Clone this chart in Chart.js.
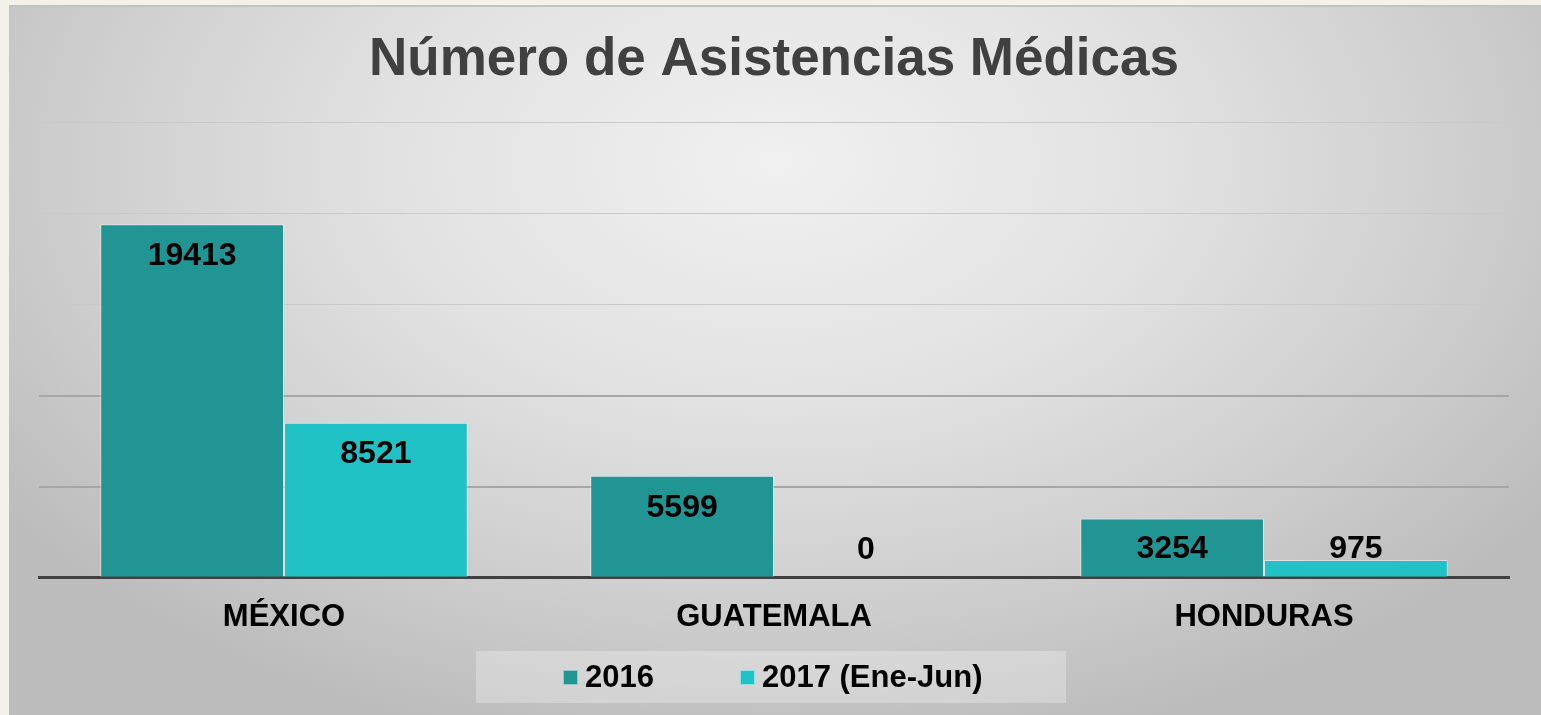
<!DOCTYPE html>
<html>
<head>
<meta charset="utf-8">
<script src="https://cdn.jsdelivr.net/npm/chart.js@4"></script>
<style>
    body { margin: 0; background: #f4f1ea; }
    #wrap {
        position: absolute; left: 9px; top: 5px; width: 1532px; height: 710px;
        border-top: 2px solid #c2c2c2; box-sizing: border-box;
        background: radial-gradient(ellipse 62% 85% at 50% 22%, #f0f0f0 0%, #e2e2e2 40%, #cfcfcf 72%, #bcbcbc 100%);
    }
    canvas { display: block; }
</style>
</head>
<body>
<div id="wrap"><canvas id="chart"></canvas></div>
<script>
// datos
const categorias = ['MÉXICO', 'GUATEMALA', 'HONDURAS'];
const serie2016 = [19413, 5599, 3254];
const serie2017 = [8521, 0, 975];
const nombresSeries = ['2016', '2017 (Ene-Jun)'];
const colores = ['#219594', '#21c2c5'];

const fuente = '"Liberation Sans", Arial, sans-serif';

// etiquetas de valor dentro de la barra (o encima si no caben)
const etiquetasPlugin = {
    id: 'etiquetas',
    afterDatasetsDraw(chart) {
        const ctx = chart.ctx;
        ctx.save();
        ctx.font = 'bold 32px ' + fuente;
        ctx.fillStyle = '#000';
        ctx.textAlign = 'center';
        ctx.textBaseline = 'middle';
        chart.data.datasets.forEach((ds, i) => {
            chart.getDatasetMeta(i).data.forEach((bar, j) => {
                const y = Math.min(bar.y + 32, bar.base - 28);
                ctx.fillText(ds.data[j], bar.x, y);
            });
        });
        ctx.restore();
    }
};

// leyenda dibujada a mano con su recuadro
const leyendaPlugin = {
    id: 'leyenda',
    afterDraw(chart) {
        const ctx = chart.ctx;
        const cy = 670;
        ctx.save();
        ctx.fillStyle = 'rgba(255,255,255,0.28)';
        ctx.fillRect(467, 644, 590, 52);
        ctx.font = 'bold 31px ' + fuente;
        ctx.textBaseline = 'middle';
        let x = 554;
        nombresSeries.forEach((nombre, i) => {
            ctx.fillStyle = colores[i];
            ctx.fillRect(x, cy - 7, 15, 15);
            ctx.strokeStyle = 'rgba(255,255,255,0.5)';
            ctx.lineWidth = 1;
            ctx.strokeRect(x + 0.5, cy - 6.5, 14, 14);
            ctx.fillStyle = '#000';
            ctx.fillText(nombre, x + 22, cy + 1);
            x += 22 + ctx.measureText(nombre).width + 86;
        });
        ctx.restore();
    }
};

new Chart(document.getElementById('chart'), {
    type: 'bar',
    data: {
        labels: categorias,
        datasets: [
            { label: nombresSeries[0], data: serie2016, backgroundColor: colores[0] },
            { label: nombresSeries[1], data: serie2017, backgroundColor: colores[1] }
        ]
    },
    options: {
        responsive: true,
        maintainAspectRatio: false,
        animation: false,
        datasets: {
            bar: {
                categoryPercentage: 0.75,
                barPercentage: 1.0,
                borderColor: 'rgba(255,255,255,0.45)',
                borderWidth: 1
            }
        },
        layout: { padding: { left: 30, right: 32, top: 0, bottom: 66 } },
        scales: {
            x: {
                grid: { display: false },
                border: { display: true, color: '#404040', width: 3 },
                ticks: {
                    color: '#000',
                    padding: 13,
                    font: { family: fuente, size: 31, weight: 'bold' }
                }
            },
            y: {
                min: 0,
                max: 25000,
                ticks: { display: false, stepSize: 5000 },
                border: { display: false },
                grid: {
                    drawTicks: false,
                    color: c => c.tick && c.tick.value >= 15000 ? '#c9c9c9' : '#a6a6a6',
                    lineWidth: c => c.tick && c.tick.value >= 15000 ? 1 : 2
                }
            }
        },
        plugins: {
            legend: { display: false },
            tooltip: { enabled: false },
            title: {
                display: true,
                text: 'Número de Asistencias Médicas',
                color: '#404040',
                font: { family: fuente, size: 53, weight: 'bold', lineHeight: 1.2 },
                padding: { top: 22, bottom: 30 }
            }
        }
    },
    plugins: [etiquetasPlugin, leyendaPlugin]
});
</script>
</body>
</html>
